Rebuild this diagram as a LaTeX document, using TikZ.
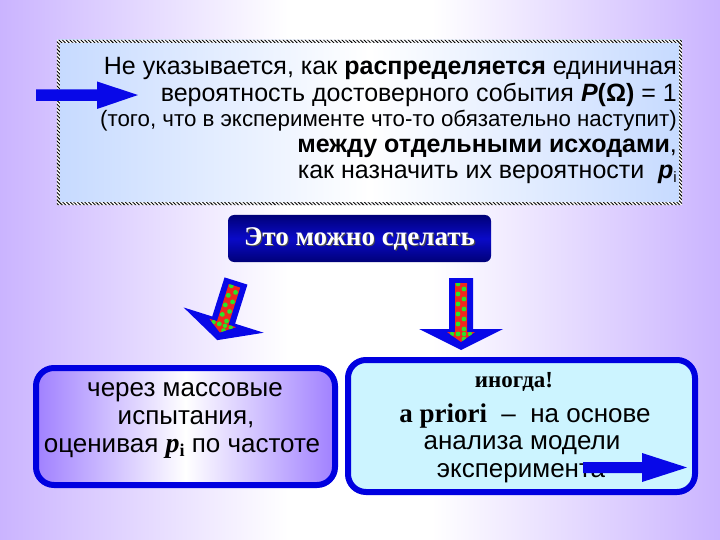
\documentclass[tikz,border=0pt]{standalone}
\usepackage{fontspec}
\setmainfont{Liberation Serif}
\newfontfamily\arial{Liberation Sans}
\newfontfamily\tnr{Liberation Serif}
\usetikzlibrary{patterns.meta}
\definecolor{bgP}{RGB}{155,112,255}
\definecolor{boxP}{RGB}{160,128,255}
\definecolor{lblue}{RGB}{198,218,255}
\definecolor{cyanfill}{RGB}{204,244,255}
\definecolor{bblue}{RGB}{0,0,224}
\definecolor{arrblue}{RGB}{8,8,232}
\definecolor{navyA}{RGB}{0,0,120}
\definecolor{navyB}{RGB}{10,10,200}
\definecolor{dotred}{RGB}{240,40,30}
\definecolor{dotgreen}{RGB}{40,230,40}
\pgfdeclarehorizontalshading{bgshade}{100bp}{color(0bp)=(bgP); color(7bp)=(bgP); color(45bp)=(white); color(55bp)=(white); color(93bp)=(bgP); color(100bp)=(bgP)}
\newcommand\fatarrowdraw[1]{%
  \fill[arrblue] (-12,0) -- (12,0) -- (12,#1) -- (42,#1) -- (0,#1+21) -- (-42,#1) -- (-12,#1) -- cycle;
  \begin{scope}
    \clip (-6,5) -- (6,5) -- (6,#1+3) -- (14,#1+3) -- (0,#1+13) -- (-14,#1+3) -- (-6,#1+3) -- cycle;
    \fill[dotred] (-16,0) rectangle (16,#1+22);
    \foreach \j in {0,...,12} {
      \fill[dotgreen] ({ifthenelse(mod(\j,2)==0,-3,3)},{6+5*\j}) circle (2.4);
    }
    \foreach \j in {0,...,3} {
      \fill[dotgreen] ({-9+6*\j},{#1+5}) circle (2.2);
    }
  \end{scope}
}
\tikzset{
  tline/.style={anchor=base east, inner sep=0pt, font=\arial\fontsize{25}{28}\selectfont},
  bline/.style={anchor=base, inner sep=0pt, font=\arial\fontsize{26}{28}\selectfont},
  flatarrow/.style={fill=arrblue},
}
\begin{document}
\begin{tikzpicture}[x=1pt,y=-1pt]
\useasboundingbox (0,0) rectangle (720,540);
\shade[shading=bgshade] (0,0) rectangle (720,540);
% top box
\node[shade, left color=lblue, right color=lblue, middle color=white, minimum width=625pt, minimum height=165pt, inner sep=0pt] (tb) at (369.5,122.5) {};
\fill[white, even odd rule] (tb.north west) rectangle (tb.south east) ([shift={(3,3)}]tb.north west) rectangle ([shift={(-3,-3)}]tb.south east);
\fill[pattern={Lines[angle=-45,distance=2.6pt,line width=0.9pt]}, pattern color=black, even odd rule] (tb.north west) rectangle (tb.south east) ([shift={(3,3)}]tb.north west) rectangle ([shift={(-3,-3)}]tb.south east);
\coordinate (a1s) at (36,95);
\coordinate (a1t) at (138,95);
\fill[flatarrow] (a1s) ++(0,-5.5) -- ++(61,0) -- ++(0,-8) -- (a1t) -- ++(-41,14) -- ++(0,-8) -- ++(-61,0) -- cycle;
\node[tline] (l1) at (677,75) {Не указывается, как \textbf{распределяется} единичная};
\node[tline] (l2) at (677,102) {вероятность достоверного события \textbf{\textit{P}(Ω)} = 1};
\node[tline, font=\arial\fontsize{22.3}{24}\selectfont] (l3) at (677,127) {(того, что в эксперименте что-то обязательно наступит)};
\node[tline] (l4) at (677,153) {\textbf{между отдельными исходами},};
\node[tline] (l5) at (677,179) {как назначить их вероятности \ \textbf{\textit{p}}\raisebox{-0.3ex}{\fontsize{15}{15}\selectfont i}};
% middle box
\node[shade, top color=navyA, bottom color=navyA, middle color=navyB, rounded corners=6pt, minimum width=263pt, minimum height=47pt, inner sep=0pt] (mb) at (359.5,238.5) {};
\node[text=black!70, font=\tnr\bfseries\fontsize{27}{30}\selectfont, inner sep=0pt] at ([shift={(1.2,1.2)}]mb) {Это можно сделать};
\node[text=white, font=\tnr\bfseries\fontsize{27}{30}\selectfont, inner sep=0pt] (mt) at (mb) {Это можно сделать};
% down arrows
\begin{scope}[shift={(236,281)}, rotate=-17.5]
\fatarrowdraw{41}
\end{scope}
\begin{scope}[shift={(461,278)}]
\fatarrowdraw{51}
\end{scope}
% bottom boxes
\node[shade, left color=boxP, right color=boxP, middle color=white, draw=bblue, line width=6pt, rounded corners=18pt, minimum width=299pt, minimum height=117pt, inner sep=0pt] (lb) at (185.5,426.5) {};
\node[draw=bblue, fill=cyanfill, line width=6pt, rounded corners=18pt, minimum width=347pt, minimum height=132pt, inner sep=0pt] (rb) at (521.5,426) {};
\node[bline] (b1) at (185,396) {через массовые};
\node[bline] (b2) at (186,424) {испытания,};
\node[bline] (b3) at (182,452) {оценивая {\tnr\bfseries\itshape\fontsize{28}{28}\selectfont p}\raisebox{-0.35ex}{\tnr\bfseries\fontsize{18}{18}\selectfont i} по частоте};
\node[bline, font=\tnr\bfseries\fontsize{23}{26}\selectfont] (r1) at (514,387) {иногда!};
\node[bline] (r2) at (525,422) {{\tnr\bfseries\fontsize{27}{28}\selectfont a priori} \ –\ \ на основе};
\node[bline] (r3) at (522,449) {анализа модели};
\node[bline] (r4) at (521,477) {эксперимента};
\coordinate (a2s) at (583,467.5);
\coordinate (a2t) at (687,467.5);
\fill[flatarrow] (a2s) ++(0,-5.5) -- ++(59,0) -- ++(0,-9) -- (a2t) -- ++(-45,14.5) -- ++(0,-9) -- ++(-59,0) -- cycle;
\end{tikzpicture}
\end{document}
